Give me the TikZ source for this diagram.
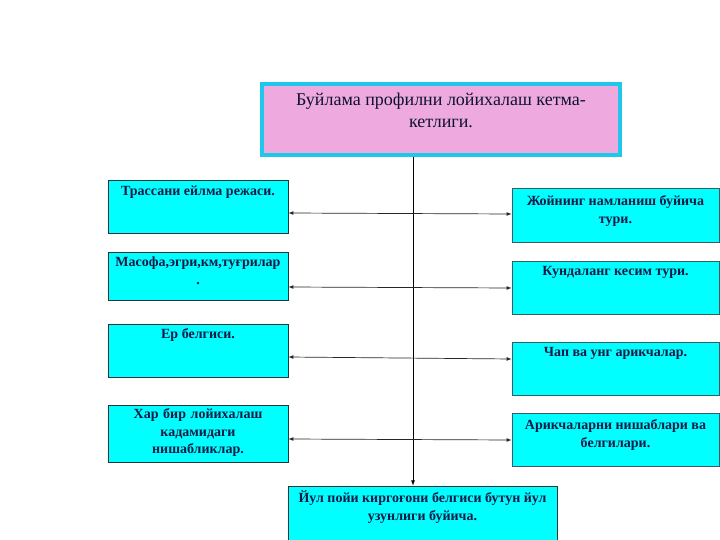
\documentclass[tikz,border=0pt]{standalone}
\usepackage{fontspec}
\setmainfont{Liberation Serif}
\usepackage{tikz}
\usetikzlibrary{arrows}
\definecolor{boxcyan}{RGB}{0,255,255}
\definecolor{toppink}{RGB}{238,170,222}
\definecolor{topedge}{RGB}{30,200,235}
\definecolor{inkblue}{RGB}{20,25,70}
\definecolor{edgegray}{RGB}{60,90,100}

\begin{document}
\begin{tikzpicture}[x=1pt, y=-1pt, >=latex,
    leftbox/.style={draw=edgegray!60!black, fill=boxcyan, line width=0.8pt, minimum width=180pt, inner sep=0pt},
    rightbox/.style={draw=edgegray, fill=boxcyan, line width=0.8pt, minimum width=207pt, inner sep=0pt},
    boxtext/.style={anchor=north, font=\bfseries\fontsize{14}{18}\selectfont, text=inkblue, align=center, inner sep=0pt},
    link/.style={<->, draw=black!85, line width=0.7pt}]
  \useasboundingbox (0,0) rectangle (720,540);
  % top box
  \node[draw=topedge, fill=toppink, line width=4pt, minimum width=358pt, minimum height=71pt] (top) at (441,119.5) {};
  \node[anchor=north, font=\fontsize{18}{21.5}\selectfont, text=inkblue!70!black, align=center, inner sep=0pt] (toptxt) at (441,93)
    {Буйлама профилни лойихалаш кетма-\\кетлиги.};
  % left column
  \node[leftbox, minimum height=53pt] (l1) at (198,206.5) {};
  \node[leftbox, minimum height=48pt] (l2) at (198,276) {};
  \node[leftbox, minimum height=53pt] (l3) at (198,350.5) {};
  \node[leftbox, minimum height=57pt] (l4) at (198,433.5) {};
  \node[boxtext] (l1txt) at ([yshift=-6pt]l1.north) {Трассани ейлма режаси.};
  \node[boxtext] (l2txt) at ([yshift=-5pt]l2.north) {Масофа,эгри,км,туғрилар\\.};
  \node[boxtext] (l3txt) at ([yshift=-5pt]l3.north) {Ер белгиси.};
  \node[boxtext, text width=176pt, font=\bfseries\fontsize{14}{17.5}\selectfont] (l4txt) at ([yshift=-4pt]l4.north) {Хар бир лойихалаш\\кадамидаги\\нишабликлар.};
  % right column
  \node[rightbox, minimum height=54pt] (r1) at (615.5,215) {};
  \node[rightbox, minimum height=53pt] (r2) at (615.5,287.5) {};
  \node[rightbox, minimum height=53pt] (r3) at (615.5,368.5) {};
  \node[rightbox, minimum height=53pt] (r4) at (615.5,439.5) {};
  \node[boxtext] (r1txt) at ([yshift=-8pt]r1.north) {Жойнинг намланиш буйича\\тури.};
  \node[boxtext] (r2txt) at ([yshift=-6pt]r2.north) {Кундаланг кесим тури.};
  \node[boxtext] (r3txt) at ([yshift=-6pt]r3.north) {Чап ва унг арикчалар.};
  \node[boxtext] (r4txt) at ([yshift=-7pt]r4.north) {Арикчаларни нишаблари ва\\белгилари.};
  % bottom box
  \node[leftbox, minimum width=269pt, minimum height=56pt] (bot) at (422.5,514) {};
  \node[boxtext] (bottxt) at ([yshift=-5pt]bot.north) {Йул пойи киргоғони белгиси бутун йул\\узунлиги буйича.};
  % connectors
  \coordinate (spine) at (413,0);
  \draw[->, line width=0.8pt] (top.south -| spine) -- (bot.north -| spine);
  \draw[link] (l1.east |- 0,213) -- (r1.west |- 0,214);
  \draw[link] (l2.east |- 0,287) -- (r2.west |- 0,288);
  \draw[link] (l3.east |- 0,357) -- (r3.west |- 0,359);
  \draw[link] (l4.east |- 0,439) -- (r4.west |- 0,440);
\end{tikzpicture}
\end{document}
